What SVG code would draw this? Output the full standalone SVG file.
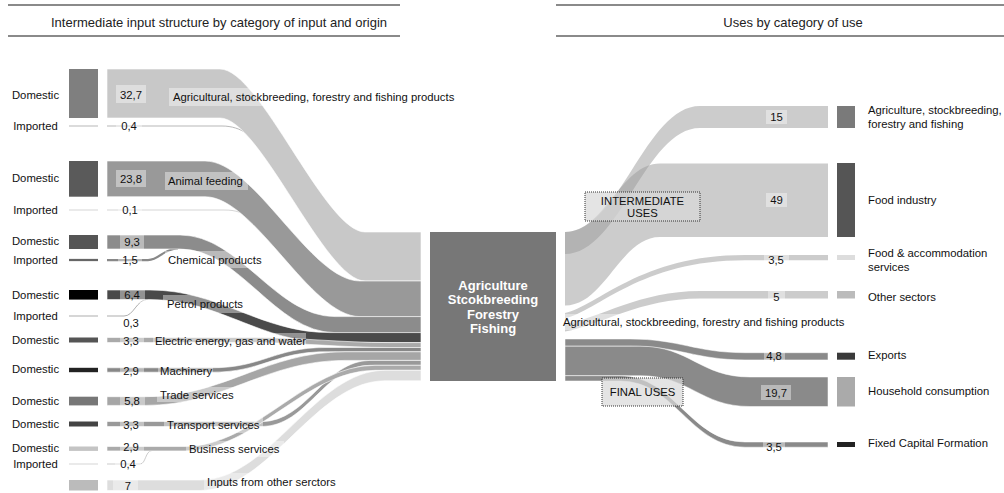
<svg xmlns="http://www.w3.org/2000/svg" width="1004" height="493" viewBox="0 0 1004 493">
<style>
text{font-family:"Liberation Sans",Arial,sans-serif;font-size:11.3px;fill:#111}
.t{font-size:13px;fill:#222;text-anchor:middle}
.c{text-anchor:middle}
.n{font-weight:bold;font-size:13px;fill:#fff;text-anchor:middle}
.lb{fill:#fff;fill-opacity:.4}
.f{stroke:#fff;stroke-width:.6}
.ri{fill:#999;fill-opacity:.5}
.rf{fill:#8a8a8a;stroke:#fff;stroke-width:.5}
.imp{fill:none}
.hl{stroke:#8a8a8a;stroke-width:1.8}
.box{fill:#d8d8d8;fill-opacity:.7;stroke:#333;stroke-width:1;stroke-dasharray:1 1}
</style>
<g id="headers">
<line class="hl" x1="8" y1="5" x2="400" y2="5"/>
<line class="hl" x1="8" y1="36" x2="400" y2="36"/>
<text class="t" x="219" y="26.5">Intermediate input structure by category of input and origin</text>
<line class="hl" x1="556" y1="5" x2="1004" y2="5"/>
<line class="hl" x1="556" y1="36" x2="1004" y2="36"/>
<text class="t" x="793" y="26.5">Uses by category of use</text>
</g>
<g id="connectors">
<path class="imp" stroke="#999" stroke-width=".7" d="M107,126 H222 C232,126 240,129 246,133"/>
<path class="imp" stroke="#aaa" stroke-width=".5" d="M107,210 H224 C230,210 234,210.5 240,212.3"/>
<path class="imp" stroke="#888" stroke-width="2.25" d="M107,260 H148 C160,260 162,249 178,248.5"/>
<path class="imp" stroke="#777" stroke-width=".6" d="M107,316 H124 C134,316 136,300 148,299"/>
<path class="imp" stroke="#aaa" stroke-width=".6" d="M107,464 H140 C146,464 145,451 152,450.5"/>
<path class="f" fill="#c8c8c8" d="M107,69 H220 C260,69 325,232 365,232 H421 V281 H365 C325,281 260,118 220,118 H107 Z"/>
<path class="f" fill="#999" d="M107,161 H205 C255,161 310,281 360,281 H421 V316.6 H360 C310,316.6 255,196.7 205,196.7 H107 Z"/>
<path class="f" fill="#8c8c8c" d="M107,235 H180 C240,235 275,316.6 335,316.6 H421 V332.6 H335 C275,332.6 240,249 180,249 H107 Z"/>
<path class="f" fill="#4a4a4a" d="M107,290 H150 C220,290 260,332.6 330,332.6 H421 V342.6 H330 C260,342.6 220,299.6 150,299.6 H107 Z"/>
<path class="f" fill="#aaa" d="M107,337.5 H250 C300,337.5 340,342.6 390,342.6 H421 V347.5 H390 C340,347.5 300,342.5 250,342.5 H107 Z"/>
<path class="f" fill="#888" d="M107,367.8 H212 C262,367.8 275,347.5 325,347.5 H421 V351.8 H325 C275,351.8 262,372.2 212,372.2 H107 Z"/>
<path class="f" fill="#a6a6a6" d="M107,396.7 H145 C225,396.7 265,351.8 345,351.8 H421 V360.4 H345 C265,360.4 225,405.4 145,405.4 H107 Z"/>
<path class="f" fill="#999" d="M107,421.5 H262 C307,421.5 325,360.4 370,360.4 H421 V365.3 H370 C325,365.3 307,426.5 262,426.5 H107 Z"/>
<path class="f" fill="#aaa" d="M107,446.5 H185 C255,446.5 305,365.3 375,365.3 H421 V370.3 H375 C305,370.3 255,450.9 185,450.9 H107 Z"/>
<path class="f" fill="#ddd" d="M107,480 H200 C270,480 315,370.3 385,370.3 H421 V380.8 H385 C315,380.8 270,490.5 200,490.5 H107 Z"/>
<path class="ri" d="M565,232 C620,232 645,106 700,106 H828 V128 H700 C645,128 620,254 565,254 Z"/>
<path class="ri" d="M565,232 C605,232 620,163.5 660,163.5 H828 V237 H660 C620,237 605,305.5 565,305.5 Z"/>
<path class="ri" d="M565,313 C598,306 640,255 745,255 H828 V260.2 H745 C640,260.2 598,311.2 565,318.2 Z"/>
<path class="ri" d="M565,324 C600,318 640,291 700,291 H828 V298.5 H700 C640,298.5 600,325.5 565,331.5 Z"/>
<path class="rf" d="M565,339 H630 C680,339 695,352.7 745,352.7 H828 V359.9 H745 C695,359.9 680,346.2 630,346.2 H565 Z"/>
<path class="rf" d="M565,346.2 H640 C690,346.2 700,377 750,377 H828 V406.5 H750 C700,406.5 690,375.7 640,375.7 H565 Z"/>
<path class="rf" d="M565,375.7 H620 C675,375.7 690,442 745,442 H828 V447.2 H745 C690,447.2 675,381 620,381 H565 Z"/>
</g>
<g id="flow-labels">
<rect class="lb" x="116" y="85" width="30" height="18"/><text class="c" x="131" y="98.5">32,7</text>
<rect class="lb" x="116" y="119" width="26" height="14"/><text class="c" x="129" y="130">0,4</text>
<rect class="lb" x="116" y="170" width="30" height="17"/><text class="c" x="131" y="182.5">23,8</text>
<rect class="lb" x="118" y="203" width="24" height="14"/><text class="c" x="130" y="213.5">0,1</text>
<rect class="lb" x="120" y="235" width="24" height="14"/><text class="c" x="132" y="246">9,3</text>
<rect class="lb" x="118" y="253" width="24" height="14"/><text class="c" x="130" y="264">1,5</text>
<rect class="lb" x="120" y="287" width="25" height="16"/><text class="c" x="132" y="299">6,4</text>
<rect class="lb" x="120" y="317" width="24" height="13"/><text class="c" x="131" y="327">0,3</text>
<rect class="lb" x="120" y="334" width="24" height="14"/><text class="c" x="131" y="345">3,3</text>
<rect class="lb" x="120" y="364" width="24" height="14"/><text class="c" x="131" y="375">2,9</text>
<rect class="lb" x="120" y="394" width="25" height="14"/><text class="c" x="132" y="405">5,8</text>
<rect class="lb" x="120" y="418" width="24" height="14"/><text class="c" x="131" y="429">3,3</text>
<rect class="lb" x="120" y="440" width="24" height="13"/><text class="c" x="131" y="450.7">2,9</text>
<rect class="lb" x="115" y="458" width="26" height="13"/><text class="c" x="128" y="468">0,4</text>
<rect class="lb" x="113" y="480" width="25" height="10.5"/><text class="c" x="128" y="489.5">7</text>
<rect class="lb" x="169" y="88" width="289" height="18"/><text x="173" y="101">Agricultural, stockbreeding, forestry and fishing products</text>
<rect class="lb" x="165" y="172" width="83" height="18"/><text x="168" y="185">Animal feeding</text>
<rect class="lb" x="165" y="251" width="100" height="17"/><text x="168" y="263.5">Chemical products</text>
<rect class="lb" x="163" y="295" width="85" height="18"/><text x="167" y="308">Petrol products</text>
<rect class="lb" x="153" y="333" width="153" height="15"/><text x="155" y="344.5">Electric energy, gas and water</text>
<rect class="lb" x="158" y="363" width="55" height="15"/><text x="160" y="374.5">Machinery</text>
<rect class="lb" x="157" y="387" width="79" height="15"/><text x="160" y="399">Trade services</text>
<rect class="lb" x="164" y="417" width="99" height="16"/><text x="167" y="429">Transport services</text>
<rect class="lb" x="186" y="441" width="98" height="16"/><text x="189" y="453">Business services</text>
<rect class="lb" x="204" y="473" width="134" height="17"/><text x="207" y="485.5">Inputs from other serctors</text>
<rect class="lb" x="766" y="110" width="21" height="14"/><text class="c" x="776.5" y="121">15</text>
<rect class="lb" x="766" y="193" width="21" height="14"/><text class="c" x="776.5" y="204">49</text>
<rect class="lb" x="764" y="252" width="25" height="14"/><text class="c" x="776" y="263.5">3,5</text>
<rect class="lb" x="768" y="290" width="17" height="14"/><text class="c" x="776.5" y="301">5</text>
<rect class="lb" x="764" y="349" width="21" height="14"/><text class="c" x="774" y="360">4,8</text>
<rect class="lb" x="761" y="385" width="30" height="15"/><text class="c" x="776" y="396.5">19,7</text>
<rect class="lb" x="763" y="440" width="22" height="14"/><text class="c" x="774" y="451">3,5</text>
<rect class="lb" x="561" y="314" width="284" height="16"/><text x="563" y="326">Agricultural, stockbreeding, forestry and fishing products</text>
<rect class="box" x="585" y="192" width="115" height="29"/>
<text class="c" x="642.5" y="204.5">INTERMEDIATE</text><text class="c" x="642.5" y="216.5">USES</text>
<rect class="box" x="602" y="378" width="81" height="28"/>
<text class="c" x="642.5" y="396">FINAL USES</text>
</g>
<g id="node-agri-in"><rect x="69" y="69" width="29" height="49" fill="#7f7f7f"/><line x1="69" y1="126" x2="98" y2="126" stroke="#999" stroke-width=".7"/><text class="c" x="35.5" y="99">Domestic</text><text class="c" x="35.5" y="130">Imported</text></g>
<g id="node-animal-in"><rect x="69" y="161" width="29" height="35.7" fill="#5a5a5a"/><line x1="69" y1="210" x2="98" y2="210" stroke="#aaa" stroke-width=".5"/><text class="c" x="35.5" y="182">Domestic</text><text class="c" x="35.5" y="214">Imported</text></g>
<g id="node-chem-in"><rect x="69" y="235" width="29" height="14" fill="#555"/><line x1="69" y1="260" x2="98" y2="260" stroke="#666" stroke-width="2.25"/><text class="c" x="35.5" y="245">Domestic</text><text class="c" x="35.5" y="264">Imported</text></g>
<g id="node-petrol-in"><rect x="69" y="290" width="29" height="9.6" fill="#000"/><line x1="69" y1="316" x2="98" y2="316" stroke="#777" stroke-width=".6"/><text class="c" x="35.5" y="299">Domestic</text><text class="c" x="35.5" y="320">Imported</text></g>
<g id="node-electric-in"><rect x="69" y="337.5" width="29" height="5" fill="#555"/><text class="c" x="35.5" y="344">Domestic</text></g>
<g id="node-machinery-in"><rect x="69" y="367.8" width="29" height="4.4" fill="#222"/><text class="c" x="35.5" y="373">Domestic</text></g>
<g id="node-trade-in"><rect x="69" y="396.7" width="29" height="8.7" fill="#777"/><text class="c" x="35.5" y="405">Domestic</text></g>
<g id="node-transport-in"><rect x="69" y="421.5" width="29" height="5" fill="#444"/><text class="c" x="35.5" y="428">Domestic</text></g>
<g id="node-business-in"><rect x="69" y="446.5" width="29" height="4.4" fill="#c4c4c4"/><line x1="69" y1="464" x2="98" y2="464" stroke="#bbb" stroke-width=".6"/><text class="c" x="35.5" y="452">Domestic</text><text class="c" x="35.5" y="468">Imported</text></g>
<g id="node-other-in"><rect x="69" y="480" width="29" height="10.5" fill="#bbb"/></g>
<g id="node-center"><rect x="430" y="232" width="126" height="149" fill="#777"/>
<text class="n" x="493" y="289.5">Agriculture</text><text class="n" x="493" y="304">Stcokbreeding</text><text class="n" x="493" y="318.5">Forestry</text><text class="n" x="493" y="333">Fishing</text></g>
<g id="node-agri-out"><rect x="837" y="106" width="18" height="22" fill="#7a7a7a"/><text x="868" y="114">Agriculture, stockbreeding,</text><text x="868" y="128">forestry and fishing</text></g>
<g id="node-food"><rect x="837" y="163" width="18" height="74" fill="#555"/><text x="868" y="204">Food industry</text></g>
<g id="node-accom"><rect x="837" y="255" width="18" height="5" fill="#ddd"/><text x="868" y="257">Food &amp; accommodation</text><text x="868" y="271">services</text></g>
<g id="node-othersec"><rect x="837" y="291" width="18" height="7.5" fill="#bbb"/><text x="868" y="301">Other sectors</text></g>
<g id="node-exports"><rect x="837" y="352.7" width="18" height="7" fill="#3a3a3a"/><text x="868" y="359">Exports</text></g>
<g id="node-household"><rect x="837" y="377" width="18" height="29.5" fill="#aaa"/><text x="868" y="395">Household consumption</text></g>
<g id="node-fcf"><rect x="837" y="442" width="18" height="5" fill="#222"/><text x="868" y="447">Fixed Capital Formation</text></g>
</svg>
